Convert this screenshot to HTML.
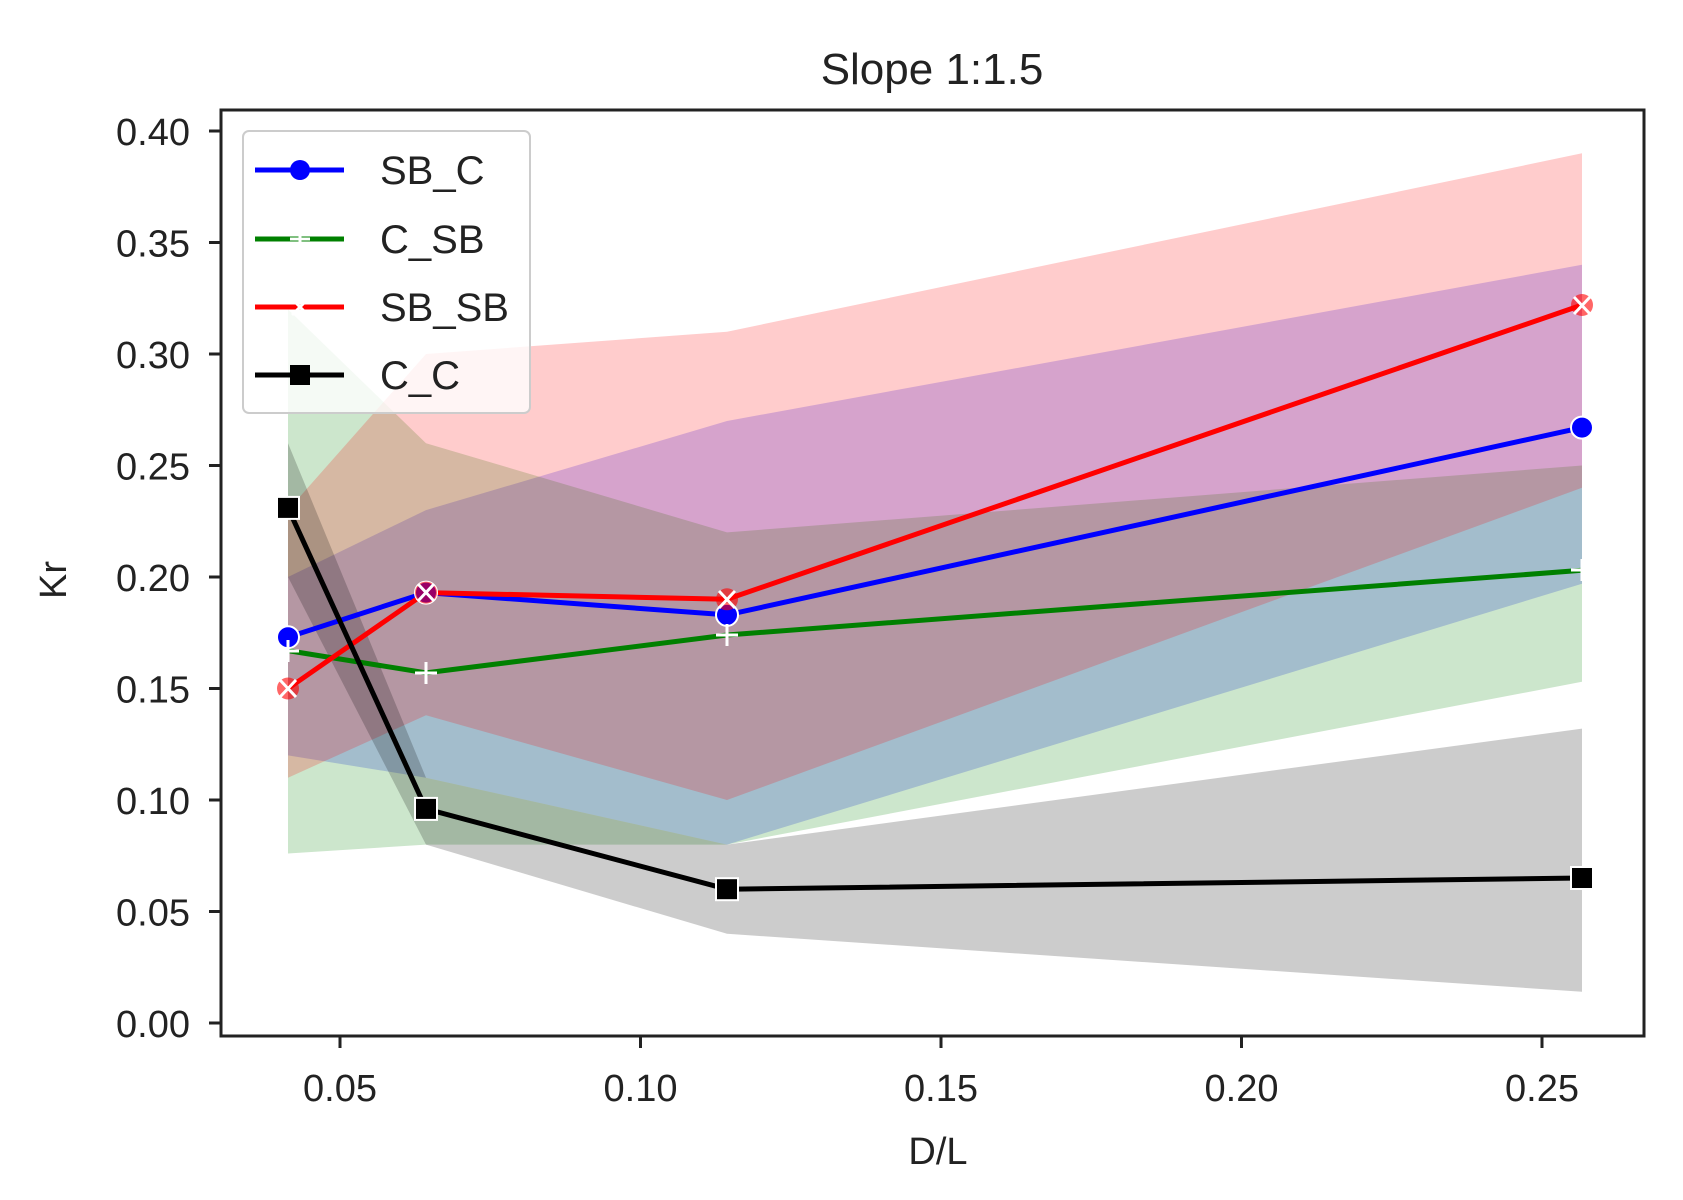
<!DOCTYPE html>
<html><head><meta charset="utf-8"><style>body{margin:0;background:#fff}svg{display:block}text{font-family:"Liberation Sans","DejaVu Sans",sans-serif;fill:#222}</style></head><body>
<svg width="1683" height="1200" viewBox="0 0 1683 1200" xmlns="http://www.w3.org/2000/svg">
<rect width="1683" height="1200" fill="#fff"/>
<text x="932" y="84" font-size="44" text-anchor="middle">Slope 1:1.5</text>
<polygon points="288,577 426,510.1 727,421 1582,264.8 1582,583.7 727,844.6 426,777.7 288,755.4" fill="rgba(0,0,255,0.2)"/>
<polygon points="288,309.4 426,443.2 727,532.4 1582,465.5 1582,681.8 727,844.6 426,844.6 288,853.5" fill="rgba(0,128,0,0.2)"/>
<polygon points="288,510.1 426,354 727,331.7 1582,153.3 1582,487.8 727,800 426,715.3 288,777.7" fill="rgba(255,0,0,0.2)"/>
<polygon points="288,443.2 426,777.7 727,844.6 1582,728.6 1582,991.8 727,933.8 426,844.6 288,577" fill="rgba(0,0,0,0.2)"/>
<polyline points="288,637.2 426,592.6 727,614.9 1582,427.6" fill="none" stroke="#00f" stroke-width="5"/>
<polyline points="288,650.6 426,672.9 727,635 1582,570.3" fill="none" stroke="#008000" stroke-width="5"/>
<polyline points="288,688.5 426,592.6 727,599.3 1582,305" fill="none" stroke="#f00" stroke-width="5"/>
<polyline points="288,507.9 426,808.9 727,889.2 1582,878" fill="none" stroke="#000" stroke-width="5"/>
<g fill="#00f" stroke="#fff" stroke-width="2"><circle cx="288" cy="637.2" r="11"/><circle cx="426" cy="592.6" r="11"/><circle cx="727" cy="614.9" r="11"/><circle cx="1582" cy="427.6" r="11"/></g>
<g stroke="#fff" stroke-width="3"><path d="M288 640v22M277 651h22M426 662v22M415 673h22M727 624v22M716 635h22M1582 559v22M1571 570h22"/></g>
<g><circle cx="288" cy="688.5" r="11" fill="#f00" opacity="0.6"/><circle cx="426" cy="592.6" r="11" fill="#f00" opacity="0.6"/><circle cx="727" cy="599.3" r="11" fill="#f00" opacity="0.6"/><circle cx="1582" cy="305" r="11" fill="#f00" opacity="0.6"/>
<path d="M280 680l16 17M296 680l-16 17M418 584l16 17M434 584l-16 17M719 591l16 17M735 591l-16 17M1574 297l16 17M1590 297l-16 17" stroke="#fff" stroke-width="3"/></g>
<g fill="#000" stroke="#fff" stroke-width="2"><rect x="277" y="496.9" width="22" height="22"/><rect x="415" y="797.9" width="22" height="22"/><rect x="716" y="878.2" width="22" height="22"/><rect x="1571" y="867" width="22" height="22"/></g>
<rect x="221" y="110" width="1423" height="926" fill="none" stroke="#222" stroke-width="3"/>
<g stroke="#222" stroke-width="3">
<path d="M209 1023h12M209 911.5h12M209 800h12M209 688.5h12M209 577h12M209 465.5h12M209 354h12M209 242.5h12M209 131h12"/>
<path d="M340 1036v12M640.5 1036v12M941 1036v12M1241.5 1036v12M1542 1036v12"/>
</g>
<g font-size="38" text-anchor="end">
<text x="190" y="1037">0.00</text><text x="190" y="925.5">0.05</text><text x="190" y="814">0.10</text><text x="190" y="702.5">0.15</text><text x="190" y="591">0.20</text><text x="190" y="479.5">0.25</text><text x="190" y="368">0.30</text><text x="190" y="256.5">0.35</text><text x="190" y="145">0.40</text>
</g>
<g font-size="38" text-anchor="middle">
<text x="340" y="1101">0.05</text><text x="640.5" y="1101">0.10</text><text x="941" y="1101">0.15</text><text x="1241.5" y="1101">0.20</text><text x="1542" y="1101">0.25</text>
<text x="938" y="1164">D/L</text>
</g>
<text transform="translate(66,580) rotate(-90)" font-size="38" text-anchor="middle">Kr</text>
<rect x="243" y="131" width="287" height="282" rx="6" fill="rgba(255,255,255,0.8)" stroke="#ccc" stroke-width="2"/>
<g stroke-width="5">
<line x1="255" y1="170" x2="344" y2="170" stroke="#00f"/><circle cx="300" cy="170" r="10" fill="#00f"/>
<line x1="255" y1="239" x2="344" y2="239" stroke="#008000"/><path d="M300 229v20M290 239h20" stroke="#fff" stroke-width="3"/>
<line x1="255" y1="307" x2="344" y2="307" stroke="#f00"/><path d="M292 299l16 16M308 299l-16 16" stroke="#fff" stroke-width="3"/>
<line x1="255" y1="375" x2="344" y2="375" stroke="#000"/><rect x="290" y="365" width="20" height="20" fill="#000"/>
</g>
<g font-size="40"><text x="380" y="184">SB_C</text><text x="380" y="253">C_SB</text><text x="380" y="321">SB_SB</text><text x="380" y="389">C_C</text></g>
</svg>
</body></html>
